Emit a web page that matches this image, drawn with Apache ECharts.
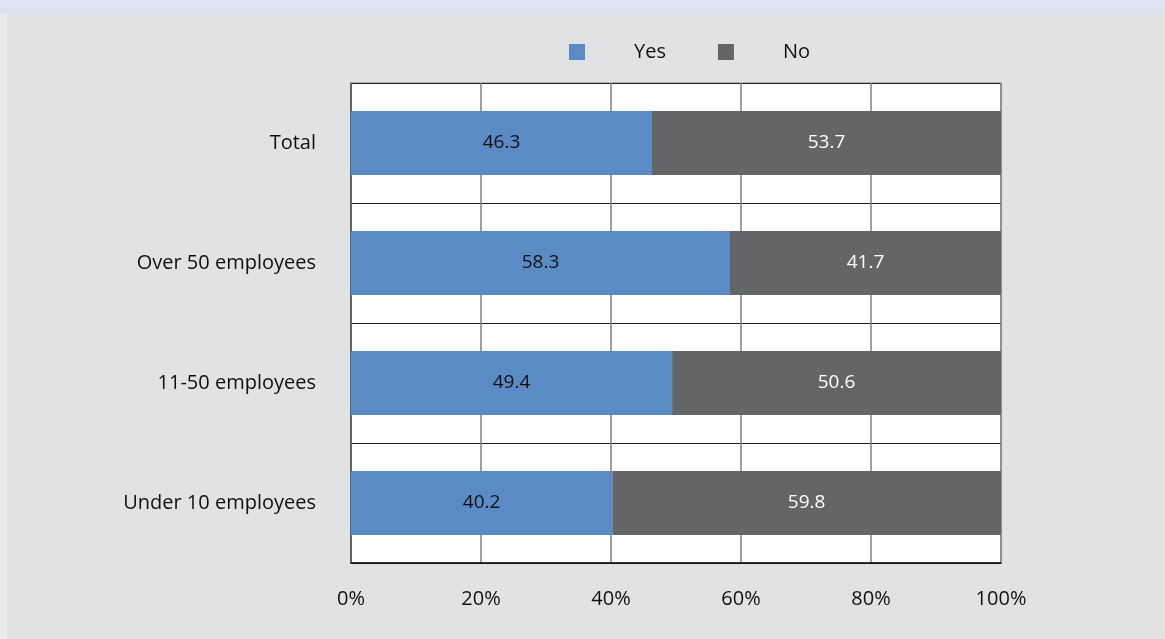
<!DOCTYPE html>
<html>
<head lang="en">
    <meta charset="UTF-8">
    <title></title>
    <style>
        html, body {margin: 0; padding: 0; background: #e1e2e4;}
    </style>
</head>
<body>
    <div id="main" style="width:1165px;height:639px"></div>

    <script src="https://cdn.jsdelivr.net/npm/echarts@6/dist/echarts.min.js"></script>
    <script>
        // top to bottom
        var categories = ['Total', 'Over 50 employees', '11-50 employees', 'Under 10 employees'];
        var yesValues = [46.3, 58.3, 49.4, 40.2];
        var noValues = [53.7, 41.7, 50.6, 59.8];
        var tickLabels = ['0%', '20%', '40%', '60%', '80%', '100%'];

        var font = 'Open Sans';
        var app = echarts.init(document.getElementById('main'));
        option = {
            backgroundColor: '#e1e2e4',
            textStyle: {fontFamily: font},
            graphic: [
                {type: 'rect', left: 0, top: 0, shape: {width: 7, height: 639}, style: {fill: '#eaebed'}},
                {type: 'rect', left: 0, top: 0, shape: {width: 1165, height: 14}, style: {fill: '#dde3f2'}}
            ],
            legend: {
                data: ['Yes', 'No'],
                left: 564,
                top: 37,
                itemWidth: 16,
                itemHeight: 16,
                itemGap: 52,
                icon: 'rect',
                textStyle: {fontSize: 20, color: '#111', fontFamily: font, padding: [0, 0, 0, 44]}
            },
            grid: {
                left: 351, right: 164, top: 83, bottom: 76,
                show: true,
                backgroundColor: '#ffffff',
                borderColor: '#808080',
                borderWidth: 1
            },
            xAxis: {
                type: 'value',
                min: 0,
                max: 100,
                interval: 20,
                axisLine: {show: true, lineStyle: {color: '#111', width: 1.5}},
                axisTick: {show: false},
                splitLine: {show: true, lineStyle: {color: '#808080', width: 1.5}},
                axisLabel: {
                    margin: 26,
                    fontSize: 20,
                    color: '#111',
                    fontFamily: font,
                    formatter: function(v){ return tickLabels[v / 20]; }
                }
            },
            yAxis: {
                type: 'category',
                inverse: true,
                data: categories,
                axisLine: {show: true, lineStyle: {color: '#555', width: 1.5}},
                axisTick: {show: false},
                splitLine: {show: true, lineStyle: {color: '#222', width: 1}},
                axisLabel: {margin: 35, fontSize: 20, color: '#111', fontFamily: font, padding: [0, 0, 8, 0]}
            },
            series: [
                {
                    name: 'Yes',
                    type: 'bar',
                    stack: 'all',
                    barWidth: 64,
                    itemStyle: {color: '#5b8bc5'},
                    label: {show: true, position: 'inside', color: '#111', fontSize: 19, fontFamily: font, padding: [0, 0, 4, 0]},
                    data: yesValues
                },
                {
                    name: 'No',
                    type: 'bar',
                    stack: 'all',
                    barWidth: 64,
                    itemStyle: {color: '#646567'},
                    label: {show: true, position: 'inside', color: '#ffffff', fontSize: 19, fontFamily: font, padding: [0, 0, 4, 0]},
                    data: noValues
                }
            ]
        };
        app.setOption(option);
    </script>
</body>
</html>
